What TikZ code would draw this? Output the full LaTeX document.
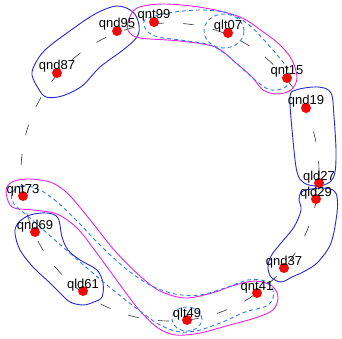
\documentclass[tikz,border=0pt]{standalone}
\usepackage{fontspec}
\setmainfont{Liberation Sans}
\definecolor{dotred}{RGB}{240,10,10}
\definecolor{solidblue}{RGB}{40,40,215}
\definecolor{mag}{RGB}{225,40,225}
\definecolor{dblue}{RGB}{55,125,225}
\tikzset{
  dot/.style={circle,fill=dotred,inner sep=0pt,minimum size=10pt},
  lab/.style={anchor=base,inner sep=0pt,font=\fontsize{13}{15}\selectfont},
  circ/.style={draw=black!80,line width=0.6pt,dash pattern=on 11pt off 19pt},
  bluereg/.style={draw=solidblue,line width=0.9pt},
  magreg/.style={draw=mag,line width=0.9pt},
  dashreg/.style={draw=dblue,line width=0.9pt,dash pattern=on 4pt off 3pt},
}
\begin{document}
\begin{tikzpicture}[x=1pt,y=-1pt]
\fill[white] (0,0) rectangle (342,339);
\useasboundingbox (0,0) rectangle (342,339);
% dashed circle
\draw[circ] (170,172) circle[radius=149pt];
% solid blue regions
\draw[bluereg] plot[smooth cycle,tension=0.55] coordinates {(117,6) (133,12) (139,25) (137,37) (123,50) (100,67) (82,86) (62,96) (46,97) (38,88) (32,75) (35,64) (45,50) (67,33) (95,14)};
\draw[bluereg] plot[smooth cycle,tension=0.55] coordinates {(290,98) (296,90) (318,87) (331,93) (334,117) (336,150) (335,172) (330,182) (318,186) (304,183) (297,172) (293,140)};
\draw[bluereg] plot[smooth cycle,tension=0.55] coordinates {(303,191) (321,188) (333,190) (337,197) (337,213) (331,243) (318,262) (305,271) (292,277) (281,282) (271,277) (268,267) (271,256) (281,243) (294,227) (301,210) (299,199)};
\draw[bluereg] plot[smooth cycle,tension=0.55] coordinates {(18,223) (30,215) (47,213) (58,218) (62,237) (68,250) (80,260) (97,270) (103,283) (102,297) (94,302) (83,305) (70,302) (60,293) (50,283) (33,267) (20,250) (15,233)};
% magenta regions
\draw[magreg] plot[smooth cycle,tension=0.55] coordinates {(128,22) (137,8) (165,4) (205,8) (240,17) (262,31) (280,45) (292,60) (297,78) (291,90) (277,94) (263,90) (252,77) (236,63) (215,47) (180,41) (140,38) (129,32)};
\draw[magreg] plot[smooth cycle,tension=0.55] coordinates {(6,191) (12,182) (28,179) (50,182) (65,191) (78,205) (95,226) (115,251) (140,276) (160,291) (185,298) (212,293) (235,285) (256,281) (272,286) (278,297) (273,310) (255,318) (230,325) (200,333) (176,335) (158,328) (140,311) (126,293) (110,271) (93,248) (77,228) (57,214) (33,210) (12,207)};
% dashed blue regions
\draw[dashreg] plot[smooth cycle,tension=0.55] coordinates {(145,20) (168,13) (200,10) (228,13) (248,24) (264,40) (278,56) (287,68) (290,80) (284,88) (271,90) (260,84) (246,72) (228,56) (210,45) (180,40) (158,37) (147,31)};
\draw[dashreg] (224,31) ellipse[x radius=20pt,y radius=17pt];
\draw[dashreg] plot[smooth cycle,tension=0.55] coordinates {(12,193) (22,186) (38,189) (56,201) (77,221) (100,245) (125,268) (150,285) (175,294) (200,295) (225,288) (248,280) (265,281) (273,290) (272,301) (264,307) (245,312) (225,321) (200,330) (180,332) (160,325) (140,311) (113,290) (87,268) (56,241) (30,218) (14,204)};
\draw[dashreg] (187,319) ellipse[x radius=15pt,y radius=12pt];
% dots
\node[dot] (qnd95) at (117,31) {};
\node[dot] (qnt99) at (154,22) {};
\node[dot] (qlt07) at (228,33) {};
\node[dot] (qnt15) at (287,78) {};
\node[dot] (qnd19) at (306,108) {};
\node[dot] (qld27) at (319,183) {};
\node[dot] (qld29) at (316,199) {};
\node[dot] (qnd37) at (284,268) {};
\node[dot] (qnt41) at (257,293) {};
\node[dot] (qlt49) at (187,320) {};
\node[dot] (qld61) at (83,291) {};
\node[dot] (qnd69) at (35,232) {};
\node[dot] (qnt73) at (23,196) {};
\node[dot] (qnd87) at (57,73) {};
% labels
\node[lab] (lqnd95) at (117,28) {qnd95};
\node[lab] (lqnt99) at (154,19) {qnt99};
\node[lab] (lqlt07) at (228,30) {qlt07};
\node[lab] (lqnt15) at (287,75) {qnt15};
\node[lab] (lqnd19) at (306,105) {qnd19};
\node[lab] (lqld27) at (319,180) {qld27};
\node[lab] (lqld29) at (316,196) {qld29};
\node[lab] (lqnd37) at (284,265) {qnd37};
\node[lab] (lqnt41) at (257,290) {qnt41};
\node[lab] (lqlt49) at (187,317) {qlt49};
\node[lab] (lqld61) at (83,288) {qld61};
\node[lab] (lqnd69) at (35,229) {qnd69};
\node[lab] (lqnt73) at (23,193) {qnt73};
\node[lab] (lqnd87) at (57,70) {qnd87};
\end{tikzpicture}
\end{document}
